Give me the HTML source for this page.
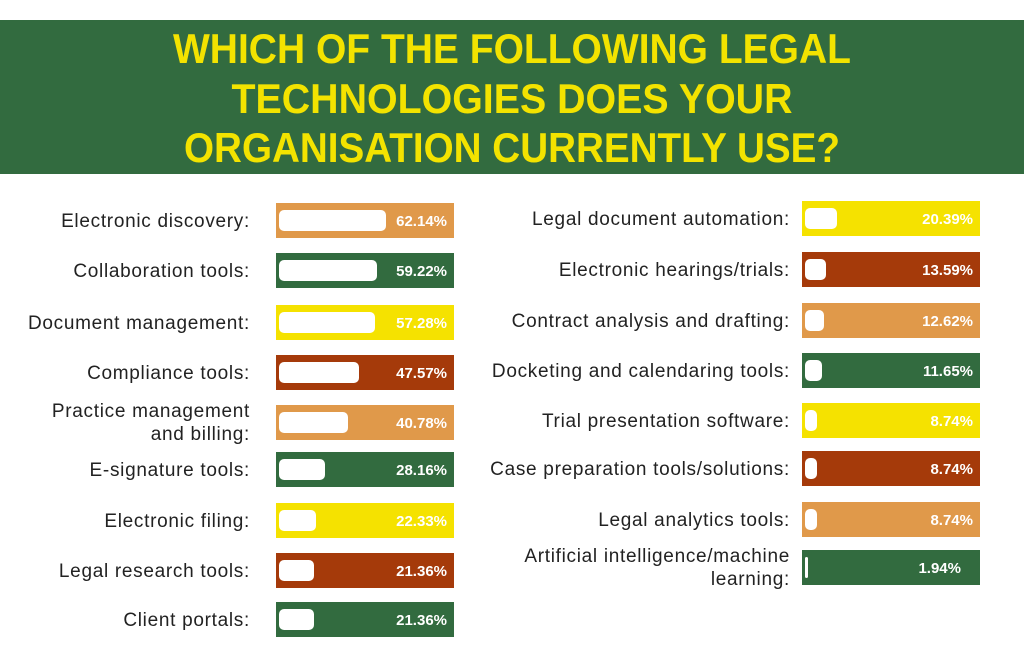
<!DOCTYPE html>
<html><head><meta charset="utf-8"><style>body{margin:0;background:#fff}svg{display:block}</style></head><body>
<svg width="1024" height="657" xmlns="http://www.w3.org/2000/svg" font-family="Liberation Sans, sans-serif">
<rect x="0" y="20" width="1024" height="154" fill="#326b3f"/>
<g fill="#f3e300" font-weight="bold" font-size="42" text-anchor="middle">
<text x="512" y="63" textLength="678" lengthAdjust="spacingAndGlyphs">WHICH OF THE FOLLOWING LEGAL</text>
<text x="512" y="113" textLength="561" lengthAdjust="spacingAndGlyphs">TECHNOLOGIES DOES YOUR</text>
<text x="512" y="162" textLength="656" lengthAdjust="spacingAndGlyphs">ORGANISATION CURRENTLY USE?</text>
</g>
<g font-size="19" letter-spacing="0.7" fill="#222" text-anchor="end">
<text x="250" y="227">Electronic discovery:</text>
<text x="250" y="277">Collaboration tools:</text>
<text x="250" y="329">Document management:</text>
<text x="250" y="379">Compliance tools:</text>
<text x="250" y="417">Practice management</text>
<text x="250" y="440">and billing:</text>
<text x="250" y="476">E-signature tools:</text>
<text x="250" y="527">Electronic filing:</text>
<text x="250" y="577">Legal research tools:</text>
<text x="250" y="626">Client portals:</text>
<text x="790" y="225">Legal document automation:</text>
<text x="790" y="276">Electronic hearings/trials:</text>
<text x="790" y="327">Contract analysis and drafting:</text>
<text x="790" y="377">Docketing and calendaring tools:</text>
<text x="790" y="427">Trial presentation software:</text>
<text x="790" y="475">Case preparation tools/solutions:</text>
<text x="790" y="526">Legal analytics tools:</text>
<text x="790" y="562">Artificial intelligence/machine</text>
<text x="790" y="585">learning:</text>
</g>
<g font-size="15" font-weight="bold" fill="#fff" text-anchor="end">
<rect x="276" y="203" width="178" height="35" fill="#e0994a"/><rect x="279" y="210" width="107" height="21" rx="5" fill="#fff"/><text x="447" y="226">62.14%</text>
<rect x="276" y="253" width="178" height="35" fill="#326b3f"/><rect x="279" y="260" width="98" height="21" rx="5" fill="#fff"/><text x="447" y="276">59.22%</text>
<rect x="276" y="305" width="178" height="35" fill="#f5e200"/><rect x="279" y="312" width="96" height="21" rx="5" fill="#fff"/><text x="447" y="328">57.28%</text>
<rect x="276" y="355" width="178" height="35" fill="#a53a0a"/><rect x="279" y="362" width="80" height="21" rx="5" fill="#fff"/><text x="447" y="378">47.57%</text>
<rect x="276" y="405" width="178" height="35" fill="#e0994a"/><rect x="279" y="412" width="69" height="21" rx="5" fill="#fff"/><text x="447" y="428">40.78%</text>
<rect x="276" y="452" width="178" height="35" fill="#326b3f"/><rect x="279" y="459" width="46" height="21" rx="5" fill="#fff"/><text x="447" y="475">28.16%</text>
<rect x="276" y="503" width="178" height="35" fill="#f5e200"/><rect x="279" y="510" width="37" height="21" rx="5" fill="#fff"/><text x="447" y="526">22.33%</text>
<rect x="276" y="553" width="178" height="35" fill="#a53a0a"/><rect x="279" y="560" width="35" height="21" rx="5" fill="#fff"/><text x="447" y="576">21.36%</text>
<rect x="276" y="602" width="178" height="35" fill="#326b3f"/><rect x="279" y="609" width="35" height="21" rx="5" fill="#fff"/><text x="447" y="625">21.36%</text>
<rect x="802" y="201" width="178" height="35" fill="#f5e200"/><rect x="805" y="208" width="32" height="21" rx="5" fill="#fff"/><text x="973" y="224">20.39%</text>
<rect x="802" y="252" width="178" height="35" fill="#a53a0a"/><rect x="805" y="259" width="21" height="21" rx="5" fill="#fff"/><text x="973" y="275">13.59%</text>
<rect x="802" y="303" width="178" height="35" fill="#e0994a"/><rect x="805" y="310" width="19" height="21" rx="5" fill="#fff"/><text x="973" y="326">12.62%</text>
<rect x="802" y="353" width="178" height="35" fill="#326b3f"/><rect x="805" y="360" width="17" height="21" rx="5" fill="#fff"/><text x="973" y="376">11.65%</text>
<rect x="802" y="403" width="178" height="35" fill="#f5e200"/><rect x="805" y="410" width="12" height="21" rx="5" fill="#fff"/><text x="973" y="426">8.74%</text>
<rect x="802" y="451" width="178" height="35" fill="#a53a0a"/><rect x="805" y="458" width="12" height="21" rx="5" fill="#fff"/><text x="973" y="474">8.74%</text>
<rect x="802" y="502" width="178" height="35" fill="#e0994a"/><rect x="805" y="509" width="12" height="21" rx="5" fill="#fff"/><text x="973" y="525">8.74%</text>
<rect x="802" y="550" width="178" height="35" fill="#326b3f"/><rect x="805" y="557" width="3" height="21" rx="1.5" fill="#fff"/><text x="961" y="573">1.94%</text>
</g>
</svg>
</body></html>
